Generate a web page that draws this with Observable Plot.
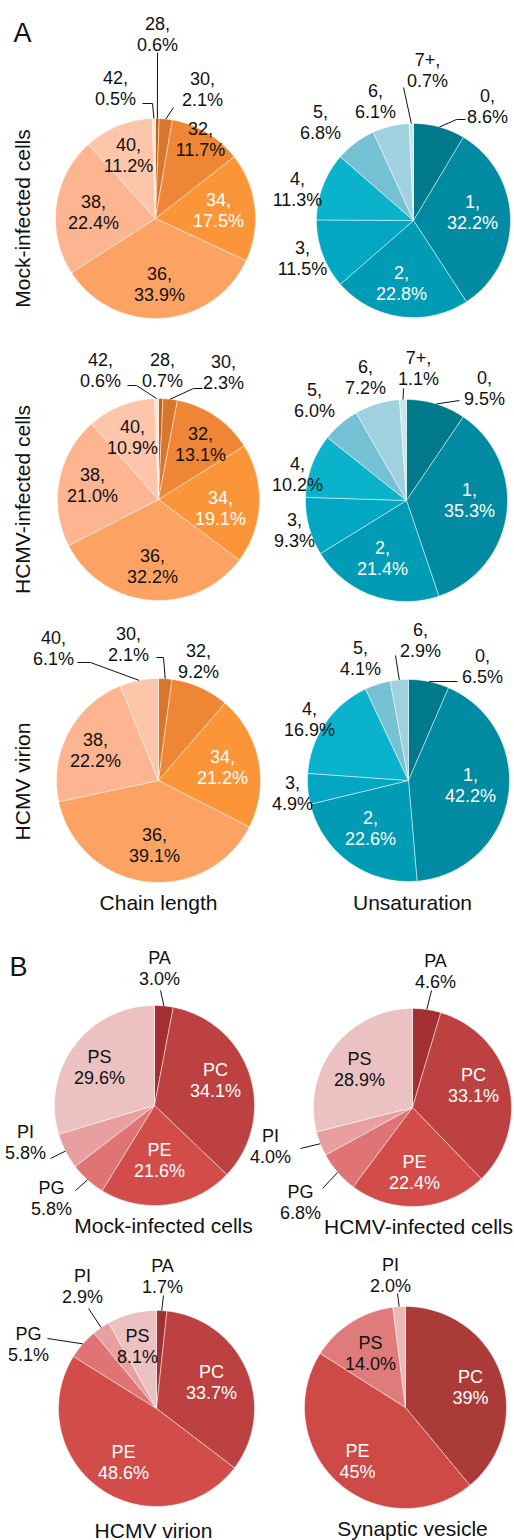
<!DOCTYPE html>
<html><head><meta charset="utf-8">
<script src="https://cdn.jsdelivr.net/npm/d3@7"></script>
<script src="https://cdn.jsdelivr.net/npm/@observablehq/plot@0.6"></script>
<style>html,body{margin:0;padding:0;background:#fff;overflow:hidden}</style>
</head><body><div id="chart"></div>
<script>
// ---------- DATA ----------
const chainCats = ["28","30","32","34","36","38","40","42"];
const mockChain = [0.6, 2.1, 11.7, 17.5, 33.9, 22.4, 11.2, 0.5];
const hcmvCellChain = [0.7, 2.3, 13.1, 19.1, 32.2, 21.0, 10.9, 0.6];
const virionChainCats = ["30","32","34","36","38","40"];
const virionChain = [2.1, 9.2, 21.2, 39.1, 22.2, 6.1];

const unsatCats = ["0","1","2","3","4","5","6","7+"];
const mockUnsat = [8.6, 32.2, 22.8, 11.5, 11.3, 6.8, 6.1, 0.7];
const hcmvCellUnsat = [9.5, 35.3, 21.4, 9.3, 10.2, 6.0, 7.2, 1.1];
const virionUnsatCats = ["0","1","2","3","4","5","6"];
const virionUnsat = [6.5, 42.2, 22.6, 4.9, 16.9, 4.1, 2.9];

const lipidCats = ["PA","PC","PE","PG","PI","PS"];
const mockLipid = [3.0, 34.1, 21.6, 5.8, 5.8, 29.6];
const hcmvCellLipid = [4.6, 33.1, 22.4, 6.8, 4.0, 28.9];
const virionLipid = [1.7, 33.7, 48.6, 5.1, 2.9, 8.1];
const vesicleCats = ["PC","PE","PS","PI"];
const vesicleLipid = [39, 45, 14.0, 2.0];
const vesicleDecimals = [0, 0, 1, 1];

const rowTitles = ["Mock-infected cells", "HCMV-infected cells", "HCMV virion"];
const colTitlesA = ["Chain length", "Unsaturation"];
const pieTitlesB = ["Mock-infected cells", "HCMV-infected cells", "HCMV virion", "Synaptic vesicle"];

// ---------- STYLES ----------
const chainColors = {"28":"#c4621d","30":"#d8772b","32":"#ef8636","34":"#fc9438","36":"#fca364","38":"#fdb490","40":"#fdc6aa","42":"#fde3d5"};
const unsatColors = {"0":"#007a8a","1":"#008ba2","2":"#009bb4","3":"#02a8c3","4":"#0bb2cc","5":"#74c1d4","6":"#9fd1de","7+":"#c7e6ee"};
const lipidColors = {PA:"#a23030",PC:"#bd4140",PE:"#d24c4a",PG:"#e07373",PI:"#e89f9f",PS:"#ebc1c1"};
const vesicleColors = {PC:"#ab3b39",PE:"#cd4a46",PS:"#df7c7b",PI:"#ebb8b8"};
const whiteText = new Set(["34","1","2","PC","PE"]);
const font = "Liberation Sans, Arial, Helvetica, sans-serif";

// ---------- LAYOUT (label offsets from pie centre; leader elbows) ----------
const pies = [
  {cx:155, cy:218, r:100, cats:chainCats, values:mockChain, colors:chainColors, sep:",\n",
   labels:[[2,-185],[47,-130],[45,-80],[63,-9],[4,65],[-62,-7],[-27,-64],[-40,-131]],
   leaders:{0:[[2,-166]],1:[[18,-111]],7:[[-3,-115],[-13,-115]]}},
  {cx:413, cy:220, r:97, cats:unsatCats, values:mockUnsat, colors:unsatColors, sep:",\n",
   labels:[[74,-115],[59,-9],[-12,62],[-111,37],[-116,-32],[-93,-99],[-38,-120],[14,-151]],
   leaders:{0:[[43,-101],[52,-101]],7:[[-10,-133]]}},
  {cx:158, cy:499, r:101, cats:chainCats, values:hcmvCellChain, colors:chainColors, sep:",\n",
   labels:[[4,-130],[65,-128],[42,-56],[62,8],[-6,66],[-66,-15],[-26,-63],[-58,-130]],
   leaders:{1:[[35,-111],[44,-111]],7:[[-22,-114],[-31,-114]]}},
  {cx:406, cy:500, r:101, cats:unsatCats, values:hcmvCellUnsat, colors:unsatColors, sep:",\n",
   labels:[[78,-113],[63,-1],[-24,57],[-112,29],[-109,-27],[-92,-101],[-41,-124],[12,-133]],
   leaders:{0:[[53,-100]],7:[[-3,-112]]}},
  {cx:158, cy:780, r:102, cats:virionChainCats, values:virionChain, colors:chainColors, sep:",\n",
   labels:[[-30,-137],[40,-120],[64,-14],[-4,64],[-63,-31],[-105,-133]],
   leaders:{0:[[5,-123],[-2,-123]],5:[[-68,-118],[-81,-118]]}},
  {cx:408, cy:780, r:101, cats:virionUnsatCats, values:virionUnsat, colors:unsatColors, sep:",\n",
   labels:[[74,-115],[62,4],[-38,47],[-116,12],[-99,-62],[-48,-123],[12,-141]],
   leaders:{0:[[49,-99]],6:[[-13,-125]]}},
  {cx:154, cy:1105, r:100, cats:lipidCats, values:mockLipid, colors:lipidColors, sep:"\n",
   labels:[[5,-138],[61,-26],[5,54],[-103,92],[-129,36],[-55,-39]],
   leaders:{0:[[6,-115]],3:[[-79,85]],4:[[-104,53]]}},
  {cx:412, cy:1107, r:99, cats:lipidCats, values:hcmvCellLipid, colors:lipidColors, sep:"\n",
   labels:[[23,-137],[61,-23],[2,64],[-112,94],[-142,38],[-53,-39]],
   leaders:{0:[[19,-117]],3:[[-90,81]],4:[[-112,41]]}},
  {cx:156, cy:1408, r:98, cats:lipidCats, values:virionLipid, colors:lipidColors, sep:"\n",
   labels:[[6,-133],[55,-27],[-33,53],[-128,-65],[-74,-123],[-19,-63]],
   leaders:{0:[[7,-113]],3:[[-109,-70]],4:[[-68,-100]]}},
  {cx:405, cy:1407, r:101, cats:vesicleCats, values:vesicleLipid, colors:vesicleColors, sep:"\n", decimals:vesicleDecimals,
   labels:[[65,-21],[-48,53],[-35,-55],[-15,-133]],
   leaders:{3:[[-8,-114]]}}
];

// ---------- BUILD MARK DATA ----------
const slicePts = [], labelRows = [], leaderPts = [];
pies.forEach((p, pi) => {
  const total = d3.sum(p.values);
  let cum = 0;
  p.values.forEach((v, i) => {
    const a0 = cum / total * 2 * Math.PI;
    cum += v;
    const a1 = cum / total * 2 * Math.PI;
    const id = pi + "-" + i;
    const color = p.colors[p.cats[i]];
    const n = Math.max(2, Math.ceil((a1 - a0) / (Math.PI / 180)));
    slicePts.push({id, color, x: p.cx, y: p.cy});
    for (let k = 0; k <= n; k++) {
      const a = a0 + (a1 - a0) * k / n;
      slicePts.push({id, color, x: p.cx + p.r * Math.sin(a), y: p.cy - p.r * Math.cos(a)});
    }
    slicePts.push({id, color, x: p.cx, y: p.cy});
    const dec = p.decimals ? p.decimals[i] : 1;
    const [dx, dy] = p.labels[i];
    labelRows.push({
      x: p.cx + dx, y: p.cy + dy,
      text: p.cats[i] + p.sep + v.toFixed(dec) + "%",
      color: whiteText.has(p.cats[i]) ? "#ffffff" : "#111111"
    });
    if (p.leaders[i]) {
      const am = (a0 + a1) / 2;
      const lid = "L" + id;
      leaderPts.push({id: lid, x: p.cx + p.r * Math.sin(am), y: p.cy - p.r * Math.cos(am)});
      p.leaders[i].forEach(([ex, ey]) => leaderPts.push({id: lid, x: p.cx + ex, y: p.cy + ey}));
    }
  });
});

const rowLabels = rowTitles.map((t, i) => ({text: t, x: 23, y: [218, 499, 781][i]}));
const colLabels = colTitlesA.map((t, i) => ({text: t, x: [158, 412][i], y: 903}));
const bLabels = pieTitlesB.map((t, i) => ({text: t, x: [163, 418, 153, 412][i], y: [1226, 1227, 1531, 1529][i]}));
const panelLetters = [{text: "A", x: 22, y: 33}, {text: "B", x: 18, y: 967}];

const chart = Plot.plot({
  width: 514, height: 1540,
  marginTop: 0, marginRight: 0, marginBottom: 0, marginLeft: 0,
  x: {domain: [0, 514], range: [0, 514], axis: null},
  y: {domain: [0, 1540], range: [0, 1540], axis: null},
  color: {type: "identity"},
  style: {fontFamily: font, background: "#fff", overflow: "visible"},
  marks: [
    Plot.line(slicePts, {x: "x", y: "y", z: "id", fill: "color", stroke: "#ffffff", strokeWidth: 0.6, strokeOpacity: 0.8}),
    Plot.line(leaderPts, {x: "x", y: "y", z: "id", stroke: "#111", strokeWidth: 1, strokeLinecap: "butt", strokeLinejoin: "miter"}),
    Plot.text(labelRows, {x: "x", y: "y", text: "text", fill: "color", fontSize: 18, lineHeight: 1.2, fontFamily: font}),
    Plot.text(rowLabels, {x: "x", y: "y", text: "text", rotate: -90, fontSize: 21, fill: "#111", fontFamily: font}),
    Plot.text(colLabels, {x: "x", y: "y", text: "text", fontSize: 21, fill: "#111", fontFamily: font}),
    Plot.text(bLabels, {x: "x", y: "y", text: "text", fontSize: 21, fill: "#111", fontFamily: font}),
    Plot.text(panelLetters, {x: "x", y: "y", text: "text", fontSize: 27, fill: "#111", fontFamily: font})
  ]
});
document.getElementById("chart").appendChild(chart);
</script>
</body></html>
